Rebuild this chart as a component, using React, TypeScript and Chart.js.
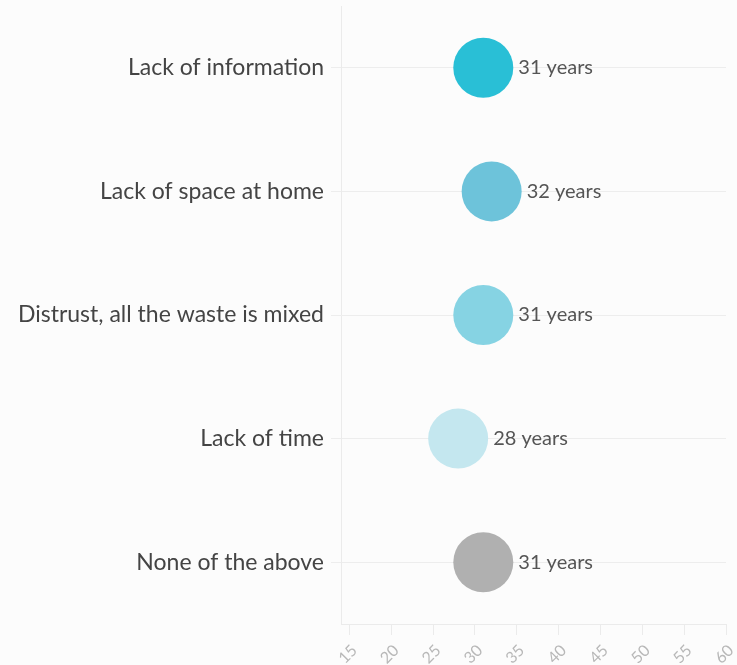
import React, { useEffect, useRef } from "react";
import { Chart, registerables } from "chart.js";

Chart.register(...registerables);

const categories = [
  "Lack of information",
  "Lack of space at home",
  "Distrust, all the waste is mixed",
  "Lack of time",
  "None of the above",
];
const ages = [31, 32, 31, 28, 31];
const colors = ["#29BFD6", "#6DC3DA", "#86D3E3", "#C4E7EF", "#B0B0B0"];
const xTicks = [15, 20, 25, 30, 35, 40, 45, 50, 55, 60];

const FONT = "Lato, 'Open Sans', sans-serif";

const labelPlugin = {
  id: "ageLabels",
  afterDatasetsDraw(chart: any) {
    const ctx = chart.ctx;
    const meta = chart.getDatasetMeta(0);
    ctx.save();
    ctx.font = `20px ${FONT}`;
    ctx.fillStyle = "#555";
    ctx.textAlign = "left";
    ctx.textBaseline = "middle";
    meta.data.forEach((pt: any, i: number) => {
      ctx.fillText(`${ages[i]} years`, pt.x + 35, pt.y);
    });
    ctx.restore();
  },
};

export default function App() {
  const ref = useRef<HTMLCanvasElement>(null);
  useEffect(() => {
    if (!ref.current) return;
    const chart = new Chart(ref.current, {
      type: "scatter",
      data: {
        datasets: [
          {
            data: ages.map((a, i) => ({ x: a, y: categories[i] })) as any,
            backgroundColor: colors,
            borderColor: colors,
            borderWidth: 0,
            pointRadius: 30,
            pointHoverRadius: 30,
            clip: false as any,
          },
        ],
      },
      options: {
        animation: false,
        responsive: true,
        maintainAspectRatio: false,
        layout: { autoPadding: false, padding: { top: 6, right: 11, left: 0, bottom: 0 } },
        plugins: { legend: { display: false }, tooltip: { enabled: false } },
        scales: {
          x: {
            type: "linear",
            min: 14,
            max: 60,
            afterBuildTicks: (scale: any) => {
              scale.ticks = xTicks.map((v) => ({ value: v }));
            },
            afterFit: (scale: any) => {
              scale.height = 41;
              scale.paddingLeft = 0;
              scale.paddingRight = 0;
              scale.paddingTop = 0;
              scale.paddingBottom = 0;
            },
            grid: {
              drawOnChartArea: false,
              drawTicks: true,
              tickLength: 11,
              color: "#ebebeb",
            },
            border: { display: true, color: "#ebebeb" },
            ticks: {
              minRotation: 45,
              maxRotation: 45,
              color: "#b8b8b8",
              font: { family: FONT, size: 16 },
              padding: 6,
              labelOffset: 5,
            },
          },
          y: {
            type: "category",
            labels: categories,
            offset: true,
            afterFit: (scale: any) => {
              scale.width = 341;
              scale.paddingLeft = 0;
              scale.paddingRight = 0;
              scale.paddingTop = 0;
              scale.paddingBottom = 0;
            },
            grid: {
              color: "#ededed",
              tickLength: 10,
              offset: false,
            },
            border: { display: true, color: "#ebebeb" },
            ticks: {
              color: "#444",
              font: { family: FONT, size: 23 },
              padding: 7,
            },
          },
        },
      },
      plugins: [labelPlugin],
    });
    return () => chart.destroy();
  }, []);
  return (
    <div
      style={{
        position: "absolute",
        left: 0,
        top: 0,
        width: 737,
        height: 665,
        background: "#fcfcfc",
      }}
    >
      <canvas ref={ref} />
    </div>
  );
}
